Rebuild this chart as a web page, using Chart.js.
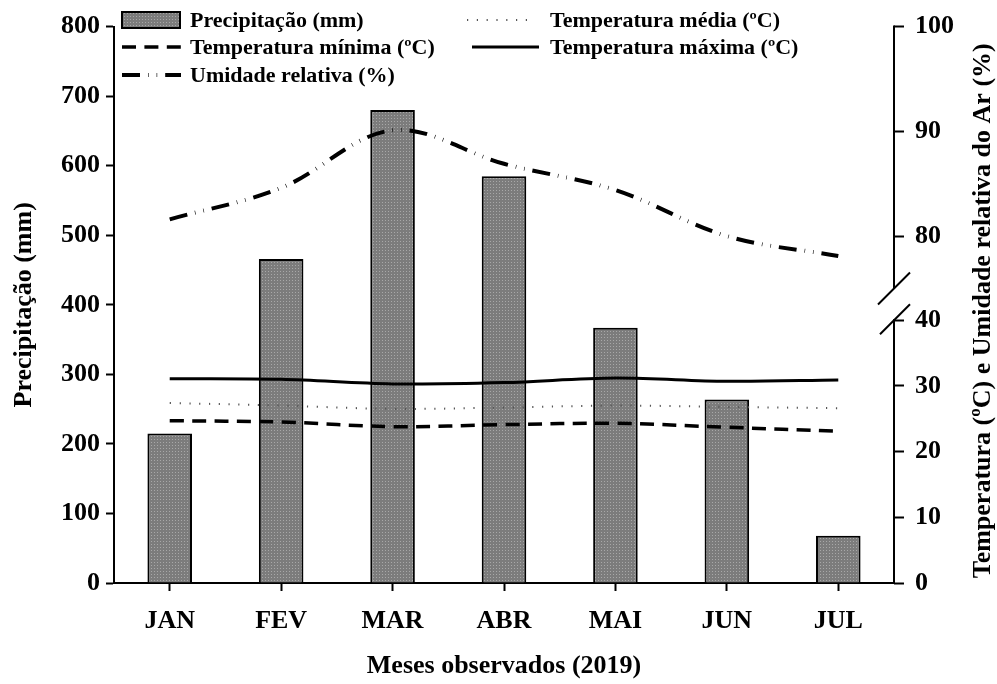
<!DOCTYPE html>
<html><head><meta charset="utf-8">
<script src="https://cdn.jsdelivr.net/npm/chart.js@4/dist/chart.umd.min.js"></script>
<style>html,body{margin:0;padding:0;background:#fff;}</style>
</head><body>
<canvas id="c" width="997" height="684"></canvas>
<script>
// ---- data ----
const months = ['JAN', 'FEV', 'MAR', 'ABR', 'MAI', 'JUN', 'JUL'];
const precipitation = [215, 466, 680, 585, 367, 264, 68];
const tempMin = [24.7, 24.5, 23.8, 24.1, 24.3, 23.7, 23.1];
const tempMean = [27.4, 27.0, 26.5, 26.7, 27.0, 26.8, 26.6];
const tempMax = [31.1, 31.0, 30.3, 30.5, 31.2, 30.7, 30.9];
const humidity = [81.6, 84.6, 90.1, 86.9, 84.4, 80.0, 78.1];
const precipTicks = [0, 100, 200, 300, 400, 500, 600, 700, 800];
const tempTicks = [0, 10, 20, 30, 40];
const humidityTicks = [80, 90, 100];
const labelPrecip = 'Precipitação (mm)';
const labelTmin = 'Temperatura mínima (ºC)';
const labelTmean = 'Temperatura média (ºC)';
const labelTmax = 'Temperatura máxima (ºC)';
const labelHum = 'Umidade relativa (%)';
const titleX = 'Meses observados (2019)';
const titleLeft = 'Precipitação (mm)';
const titleRight = 'Temperatura (ºC) e Umidade relativa do Ar (%)';

// ---- styles ----
const FONT = "'Liberation Serif', 'Times New Roman', serif";
Chart.defaults.font.family = FONT;
Chart.defaults.color = '#000';

function makePattern() {
  const c = document.createElement('canvas'); c.width = 3; c.height = 3;
  const g = c.getContext('2d');
  g.fillStyle = '#7c7c7c'; g.fillRect(0, 0, 3, 3);
  g.fillStyle = '#a8a8a8'; g.fillRect(1, 1, 1, 1);
  return g.createPattern(c, 'repeat');
}
const barFill = makePattern();

const tickFont = {family: FONT, size: 26, weight: 'bold'};
const STYLE = {
  tmin: {color: '#000', width: 3.5, dash: [14, 8.4]},
  tmean: {color: '#555', width: 2, dash: [1.2, 8.6]},
  tmax: {color: '#000', width: 3, dash: []},
  hum: {color: '#000', width: 4, dash: [18, 8, 0.6, 8, 0.6, 8]}
};

function lineDs(label, data, axis, st) {
  return {type: 'line', label, data, yAxisID: axis, borderColor: st.color, borderWidth: st.width,
    borderDash: st.dash, pointRadius: 0, fill: false, tension: 0.35, order: 1, borderCapStyle: 'butt'};
}

const decor = {
  id: 'decor',
  afterDraw(chart) {
    const ctx = chart.ctx;
    const yH = chart.scales.yH, yT = chart.scales.yT;
    const ca = chart.chartArea;
    const x = ca.right;
    ctx.save();
    ctx.strokeStyle = '#000'; ctx.lineWidth = 2; ctx.setLineDash([]);
    // broken right axis
    const hTop = yH.getPixelForValue(yH.max), hBot = yH.getPixelForValue(yH.min);
    const tTop = yT.getPixelForValue(tempTicks[tempTicks.length - 1]) - 1, tBot = yT.getPixelForValue(0);
    ctx.beginPath();
    ctx.moveTo(x, hTop - 1); ctx.lineTo(x, hBot);
    ctx.moveTo(x, tTop); ctx.lineTo(x, tBot + 1);
    ctx.stroke();
    ctx.lineWidth = 2;
    ctx.beginPath();
    ctx.moveTo(x - 16, hBot + 16); ctx.lineTo(x + 16, hBot - 16);
    ctx.moveTo(x - 14, tTop + 15); ctx.lineTo(x + 16, tTop - 15);
    ctx.stroke();
    // right title
    ctx.fillStyle = '#000';
    ctx.font = 'bold 26px ' + FONT;
    ctx.textAlign = 'center'; ctx.textBaseline = 'middle';
    ctx.save();
    ctx.translate(983, (ca.top + ca.bottom) / 2 + 6);
    ctx.rotate(-Math.PI / 2);
    ctx.fillText(titleRight, 0, 0);
    ctx.restore();
    // legend
    const ds = chart.data.datasets;
    ctx.font = 'bold 22px ' + FONT;
    ctx.textAlign = 'left';
    const items = [
      {i: 0, sx: 122, ex: 180, tx: 190, y: 20},
      {i: 2, sx: 467, ex: 530, tx: 550, y: 20},
      {i: 1, sx: 122, ex: 181, tx: 190, y: 47},
      {i: 3, sx: 472, ex: 539, tx: 550, y: 47},
      {i: 4, sx: 122, ex: 181, tx: 190, y: 75}
    ];
    for (const it of items) {
      const d = ds[it.i];
      if (d.type === 'bar') {
        ctx.fillStyle = barFill;
        ctx.fillRect(it.sx, it.y - 8, it.ex - it.sx, 16);
        ctx.lineWidth = 2; ctx.strokeStyle = '#000'; ctx.setLineDash([]);
        ctx.strokeRect(it.sx, it.y - 8, it.ex - it.sx, 16);
      } else {
        ctx.strokeStyle = d.borderColor; ctx.lineWidth = d.borderWidth;
        ctx.setLineDash(d.borderDash || []);
        ctx.beginPath(); ctx.moveTo(it.sx, it.y); ctx.lineTo(it.ex, it.y); ctx.stroke();
        ctx.setLineDash([]);
      }
      ctx.fillStyle = '#000';
      ctx.fillText(d.label, it.tx, it.y + 1);
    }
    ctx.restore();
  }
};

const axisGrid = (len) => ({display: true, drawOnChartArea: false, drawTicks: true, tickLength: len, tickWidth: 2, tickColor: '#000'});

new Chart(document.getElementById('c'), {
  type: 'bar',
  data: {
    labels: months,
    datasets: [
      {type: 'bar', label: labelPrecip, data: precipitation, yAxisID: 'y', backgroundColor: barFill,
        borderColor: '#000', borderWidth: 2, barPercentage: 0.4, categoryPercentage: 1.0, order: 10},
      lineDs(labelTmin, tempMin, 'yT', STYLE.tmin),
      lineDs(labelTmean, tempMean, 'yT', STYLE.tmean),
      lineDs(labelTmax, tempMax, 'yT', STYLE.tmax),
      lineDs(labelHum, humidity, 'yH', STYLE.hum)
    ]
  },
  options: {
    responsive: false, animation: false, devicePixelRatio: 1,
    layout: {padding: {top: 22, left: 0, right: 0, bottom: 0}},
    plugins: {legend: {display: false}, tooltip: {enabled: false}},
    scales: {
      x: {
        type: 'category', offset: true,
        grid: Object.assign(axisGrid(8), {offset: false}),
        border: {display: true, color: '#000', width: 2},
        ticks: {color: '#000', font: tickFont, padding: 15, maxRotation: 0},
        title: {display: true, text: titleX, color: '#000', font: tickFont, padding: {top: 0, bottom: 2}},
        afterFit: s => { s.height = 101; }
      },
      y: {
        position: 'left', min: 0, max: 800,
        afterBuildTicks: s => { s.ticks = precipTicks.map(v => ({value: v})); },
        grid: axisGrid(8),
        border: {display: true, color: '#000', width: 2},
        ticks: {color: '#000', font: tickFont, padding: 6},
        title: {display: true, text: titleLeft, color: '#000', font: tickFont, padding: {top: 9, bottom: 0}},
        afterFit: s => { s.width = 114; }
      },
      yH: {
        position: 'right', stack: 'right', stackWeight: 264, min: 75, max: 100,
        afterBuildTicks: s => { s.ticks = humidityTicks.map(v => ({value: v})); },
        grid: axisGrid(10),
        border: {display: false},
        ticks: {color: '#000', font: tickFont, padding: 11},
        afterFit: s => { s.width = 103; }
      },
      yT: {
        position: 'right', stack: 'right', stackWeight: 297, min: 0, max: 44.83,
        afterBuildTicks: s => { s.ticks = tempTicks.map(v => ({value: v})); },
        grid: axisGrid(10),
        border: {display: false},
        ticks: {color: '#000', font: tickFont, padding: 11},
        afterFit: s => { s.width = 103; }
      }
    }
  },
  plugins: [decor]
});
</script>
</body></html>
